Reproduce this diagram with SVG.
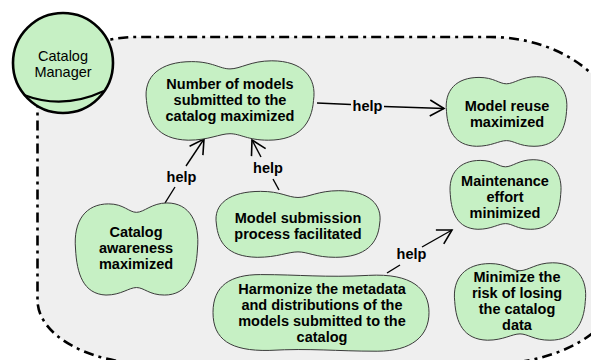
<svg xmlns="http://www.w3.org/2000/svg" width="591" height="360" viewBox="0 0 591 360">
<style>
  .goal { fill: #c6f0c4; stroke: #3a3a3a; stroke-width: 1; }
  .lbl { font-family: "Liberation Sans", Arial, sans-serif; font-weight: bold; font-size: 14.5px; fill: #000; text-anchor: middle; }
  .act { font-family: "Liberation Sans", Arial, sans-serif; font-size: 14.5px; fill: #000; text-anchor: middle; }
  .link { stroke: #000; stroke-width: 1.4; fill: none; }
</style>
<defs>
  <path id="cloud" vector-effect="non-scaling-stroke" d="M 2 50 C 0 20, 10 2, 28 2 C 40 2, 44 11, 50 11 C 56 11, 62 1, 74 1 C 92 1, 100 22, 98 50 C 97 78, 90 99, 72 99 C 60 99, 56 91, 50 91 C 44 91, 38 99, 26 99 C 8 98, 3 76, 2 50 Z"/>
  <path id="cloud2" vector-effect="non-scaling-stroke" d="M 0 50 C 0 16, 8 2, 22 2 C 40 2, 52 6, 72 3 C 92 0, 100 20, 100 50 C 100 80, 92 99, 76 99 C 56 99, 46 95, 26 98 C 8 99, 0 84, 0 50 Z"/>
  <marker id="arr" markerUnits="userSpaceOnUse" markerWidth="20" markerHeight="20" refX="0" refY="0" viewBox="-16 -10 18 20" orient="auto" overflow="visible">
    <path d="M -14 -8 L 0 0 L -14 8" fill="none" stroke="#000" stroke-width="1.6"/>
  </marker>
</defs>

<g id="boundary">
  <path d="M 37.5 107 A 100 70 0 0 1 137.5 37 L 490 37 A 130 98 0 0 1 620 135 L 620 284 A 130 80 0 0 1 490 364 L 152.5 364 A 115 64 0 0 1 37.5 300 Z" fill="#efefef" stroke="#000" stroke-width="2.6" stroke-dasharray="10 5 3 5"/>
</g>

<g id="actor">
  <circle cx="63" cy="63" r="50" fill="#c6f0c4" stroke="#000" stroke-width="2.6"/>
  <path d="M 24 95 Q 63 110 104 91" fill="none" stroke="#000" stroke-width="2.2"/>
  <text class="act" x="63" y="61">Catalog</text>
  <text class="act" x="63" y="77">Manager</text>
</g>

<g id="connectors">
  <line class="link" x1="317" y1="103" x2="351" y2="104.5"/>
  <line class="link" x1="384" y1="106.5" x2="444" y2="108.5" marker-end="url(#arr)"/>
  <text class="lbl" x="367.5" y="111">help</text>

  <line class="link" x1="165" y1="203" x2="175" y2="187"/>
  <line class="link" x1="186" y1="166" x2="204" y2="139" marker-end="url(#arr)"/>
  <text class="lbl" x="181.5" y="182">help</text>

  <line class="link" x1="279" y1="190" x2="273" y2="179"/>
  <line class="link" x1="261" y1="157" x2="252" y2="140" marker-end="url(#arr)"/>
  <text class="lbl" x="268" y="173">help</text>

  <line class="link" x1="387" y1="273" x2="400" y2="265"/>
  <line class="link" x1="422" y1="247" x2="452" y2="230" marker-end="url(#arr)"/>
  <text class="lbl" x="411.5" y="259">help</text>
</g>

<g id="g-number">
  <use href="#cloud" class="goal" transform="translate(143 60) scale(1.74 0.81)"/>
  <text class="lbl" x="230" y="89">Number of models</text>
  <text class="lbl" x="230" y="105">submitted to the</text>
  <text class="lbl" x="230" y="121">catalog maximized</text>
</g>

<g id="g-reuse">
  <use href="#cloud" class="goal" transform="translate(444 76) scale(1.25 0.71)"/>
  <text class="lbl" x="507" y="110.5">Model reuse</text>
  <text class="lbl" x="507" y="126.5">maximized</text>
</g>

<g id="g-maintenance">
  <use href="#cloud" class="goal" transform="translate(448 159) scale(1.15 0.71)"/>
  <text class="lbl" x="505" y="186">Maintenance</text>
  <text class="lbl" x="505" y="202">effort</text>
  <text class="lbl" x="505" y="218">minimized</text>
</g>

<g id="g-risk">
  <use href="#cloud" class="goal" transform="translate(452 262) scale(1.36 0.79)"/>
  <text class="lbl" x="517" y="282">Minimize the</text>
  <text class="lbl" x="517" y="298">risk of losing</text>
  <text class="lbl" x="517" y="314">the catalog</text>
  <text class="lbl" x="517" y="330">data</text>
</g>

<g id="g-awareness">
  <use href="#cloud" class="goal" transform="translate(73 202) scale(1.27 0.94)"/>
  <text class="lbl" x="136" y="237">Catalog</text>
  <text class="lbl" x="136" y="253">awareness</text>
  <text class="lbl" x="136" y="269">maximized</text>
</g>

<g id="g-submission">
  <use href="#cloud" class="goal" transform="translate(213 190) scale(1.70 0.68)"/>
  <text class="lbl" x="298" y="223">Model submission</text>
  <text class="lbl" x="298" y="239">process facilitated</text>
</g>

<g id="g-harmonize">
  <use href="#cloud2" class="goal" transform="translate(213 273) scale(2.16 0.79)"/>
  <text class="lbl" x="322" y="294">Harmonize the metadata</text>
  <text class="lbl" x="322" y="310">and distributions of the</text>
  <text class="lbl" x="322" y="326">models submitted to the</text>
  <text class="lbl" x="322" y="342">catalog</text>
</g>
</svg>
